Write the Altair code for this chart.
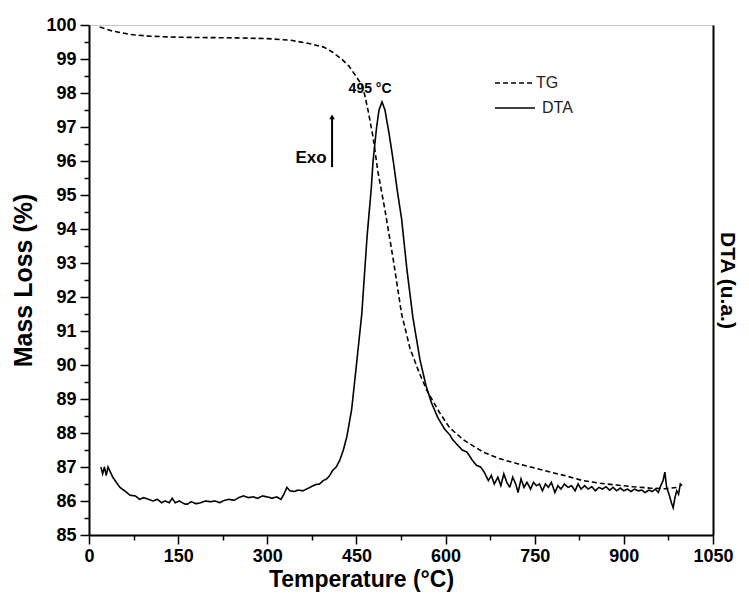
import altair as alt
import pandas as pd

# ---- data ----
tg_temp = [18, 40, 70, 103, 150, 200, 250, 300, 340, 372, 395, 410, 425, 437, 447, 459, 464, 470,
           478, 486, 498, 512, 526, 540, 555, 570, 590, 607, 630, 663, 690, 720, 750, 776, 800,
           831, 860, 888, 915, 944, 970, 990]
tg_val = [99.94, 99.82, 99.72, 99.67, 99.64, 99.63, 99.62, 99.60, 99.55, 99.45, 99.35, 99.20,
          99.00, 98.80, 98.55, 98.24, 97.94, 97.45, 96.70, 95.70, 94.56, 93.10, 91.50, 90.50,
          89.80, 89.20, 88.60, 88.15, 87.80, 87.44, 87.25, 87.10, 86.97, 86.85, 86.75, 86.60,
          86.52, 86.47, 86.42, 86.38, 86.36, 86.40]

dta_temp = [20, 23, 26, 29, 32, 36, 40, 46, 52, 60, 69, 78, 85, 92, 100, 108, 115, 122, 128, 135,
            140, 145, 152, 160, 165, 172, 180, 188, 196, 205, 212, 220, 228, 236, 244, 252, 260,
            268, 276, 284, 292, 300, 308, 316, 323, 328, 333, 338, 345, 352, 360, 367, 374, 381,
            388, 394, 400, 405, 410, 416, 422, 428, 434, 442, 450, 459, 468, 475, 478, 484, 488,
            493, 498, 505, 512, 519, 526, 535, 545, 557, 567, 576, 587, 599, 607, 612, 620, 628,
            636, 645, 652, 659, 665, 672, 677, 682, 688, 693, 698, 703, 708, 713, 718, 722, 727,
            732, 737, 743, 748, 753, 758, 763, 768, 773, 778, 784, 789, 794, 800, 806, 812, 818,
            823, 828, 834, 840, 846, 852, 858, 864, 870, 876, 882, 888, 894, 900, 906, 912, 918,
            924, 930, 936, 942, 948, 953, 958, 962, 966, 969, 972, 976, 980, 983, 986, 989, 992,
            995, 998]
dta_val = [87.0, 86.8, 87.0, 86.75, 87.0, 86.85, 86.7, 86.55, 86.4, 86.3, 86.17, 86.15, 86.05,
           86.1, 86.05, 86.0, 86.05, 85.95, 86.0, 85.95, 86.08, 85.95, 86.0, 85.92, 85.9, 85.98,
           85.92, 85.95, 86.0, 85.98, 86.0, 85.95, 86.02, 86.05, 86.02, 86.1, 86.15, 86.1, 86.12,
           86.08, 86.15, 86.12, 86.08, 86.12, 86.05, 86.2, 86.4, 86.3, 86.28, 86.32, 86.3, 86.36,
           86.42, 86.48, 86.5, 86.6, 86.65, 86.75, 86.9, 87.0, 87.2, 87.5, 87.9, 88.7, 90.0, 91.5,
           93.8, 95.2, 96.0, 97.0, 97.5, 97.74, 97.5, 96.8, 96.0, 95.1, 94.3, 92.8, 91.4, 90.15,
           89.4, 88.9, 88.45, 88.1, 87.95, 87.8, 87.65, 87.5, 87.44, 87.2, 87.05, 87.0, 86.85,
           86.6, 86.75, 86.5, 86.7, 86.45, 86.8, 86.55, 86.4, 86.7, 86.5, 86.25, 86.65, 86.4,
           86.55, 86.35, 86.55, 86.45, 86.5, 86.3, 86.5, 86.4, 86.55, 86.25, 86.45, 86.35, 86.5,
           86.4, 86.45, 86.3, 86.5, 86.35, 86.45, 86.35, 86.42, 86.3, 86.4, 86.35, 86.42, 86.32,
           86.4, 86.3, 86.38, 86.3, 86.35, 86.28, 86.35, 86.3, 86.32, 86.25, 86.32, 86.28, 86.35,
           86.25, 86.45, 86.6, 86.85, 86.4, 86.2, 85.95, 85.8, 86.1, 86.3, 86.2, 86.5, 86.45]

series_names = ["TG", "DTA"]
x_ticks = list(range(0, 1051, 75))
y_ticks = [85 + 0.5 * i for i in range(31)]

# annotations
ann_text = ["495 °C", "Exo"]
ann_temp = [473, 400]
ann_val = [98.12, 96.08]
arrow_temp = [409]
arrow_low = [95.82]
arrow_high = [97.30]

tg_df = pd.DataFrame({"T": tg_temp, "v": tg_val, "s": "TG"})
dta_df = pd.DataFrame({"T": dta_temp, "v": dta_val, "s": "DTA"})

FONT = "Liberation Sans"

x_enc = alt.X("T:Q", scale=alt.Scale(domain=[0, 1050], nice=False),
              axis=alt.Axis(values=x_ticks, tickCount=len(x_ticks), title="Temperature (°C)",
                            labelExpr="datum.value % 150 === 0 ? '' + datum.value : ''",
                            tickSize={"condition": {"test": "datum.value % 150 === 0", "value": 9}, "value": 5},
                            labelFontSize=18, labelFontWeight="bold", labelPadding=3,
                            titleFontSize=23, titleFontWeight="bold", titlePadding=3,
                            titleX=272, titleAlign="center",
                            domainColor="black", domainWidth=2, tickColor="black", tickWidth=1.5,
                            labelColor="black", titleColor="black", grid=False, labelFlush=False,
                            labelOverlap=False))

y_scale = alt.Scale(domain=[85, 100], nice=False, zero=False)
y_left = alt.Axis(values=y_ticks, tickCount=len(y_ticks), title="Mass Loss (%)",
                  labelExpr="datum.value % 1 === 0 ? '' + datum.value : ''",
                  tickSize={"condition": {"test": "datum.value % 1 === 0", "value": 9}, "value": 5},
                  labelFontSize=18, labelFontWeight="bold", labelPadding=4,
                  titleFontSize=25, titleFontWeight="bold", titlePadding=9,
                  domainColor="black", domainWidth=2, tickColor="black", tickWidth=1.5,
                  labelColor="black", titleColor="black", grid=False, labelFlush=False,
                  labelOverlap=False)
y_right = alt.Axis(orient="right", title="DTA (u.a.)", labels=False, ticks=False,
                   titleFontSize=21, titleFontWeight="bold", titleAngle=90, titlePadding=3,
                   domainColor="black", domainWidth=2, titleColor="black", grid=False)

dash = alt.StrokeDash("s:N", scale=alt.Scale(domain=series_names, range=[[5, 3], [1, 0]]),
                      legend=None)

tg = alt.Chart(tg_df).mark_line(color="black", strokeWidth=1.6).encode(
    x=x_enc, y=alt.Y("v:Q", scale=y_scale, axis=y_left), strokeDash=dash, order="T:Q")

ann_df = pd.DataFrame({"T": ann_temp, "v": ann_val, "t": ann_text})
peak_lbl = alt.Chart(ann_df.iloc[[0]]).mark_text(font=FONT, fontSize=14, fontWeight="bold",
                                                 color="black", align="center", baseline="middle").encode(
    x="T:Q", y=alt.Y("v:Q", scale=y_scale), text="t:N")
exo_lbl = alt.Chart(ann_df.iloc[[1]]).mark_text(font=FONT, fontSize=17, fontWeight="bold",
                                                color="black", align="right", baseline="middle").encode(
    x="T:Q", y=alt.Y("v:Q", scale=y_scale), text="t:N")

arr_df = pd.DataFrame({"T": arrow_temp, "lo": arrow_low, "hi": arrow_high})
arrow_line = alt.Chart(arr_df).mark_rule(color="black", strokeWidth=2).encode(
    x="T:Q", y=alt.Y("lo:Q", scale=y_scale), y2="hi:Q")
arrow_head = alt.Chart(arr_df).mark_point(shape="triangle-up", filled=True, color="black",
                                          size=30, opacity=1).encode(
    x="T:Q", y=alt.Y("hi:Q", scale=y_scale))

# manual legend (pixel positions inside the plot area)
leg_tg_line = alt.Chart(pd.DataFrame({"s": [series_names[0]]})).mark_rule(
    color="black", strokeWidth=1.5, strokeDash=[5, 3]).encode(
    x=alt.value(406), x2=alt.value(444), y=alt.value(58))
leg_dta_line = alt.Chart(pd.DataFrame({"s": [series_names[1]]})).mark_rule(
    color="black", strokeWidth=1.5).encode(
    x=alt.value(406), x2=alt.value(446), y=alt.value(83))
leg_tg_txt = alt.Chart(pd.DataFrame({"s": [series_names[0]]})).mark_text(
    font=FONT, fontSize=16, color="#222", align="left", baseline="middle").encode(
    x=alt.value(447), y=alt.value(58), text="s:N")
leg_dta_txt = alt.Chart(pd.DataFrame({"s": [series_names[1]]})).mark_text(
    font=FONT, fontSize=16, color="#222", align="left", baseline="middle").encode(
    x=alt.value(453), y=alt.value(83), text="s:N")

left_layer = alt.layer(tg, peak_lbl, exo_lbl, arrow_line, arrow_head,
                       leg_tg_line, leg_dta_line, leg_tg_txt, leg_dta_txt)

dta = alt.Chart(dta_df).mark_line(color="black", strokeWidth=1.6).encode(
    x=x_enc, y=alt.Y("v:Q", scale=y_scale, axis=y_right), strokeDash=dash, order="T:Q")

chart = alt.layer(left_layer, dta).resolve_scale(y="independent").properties(
    width=624, height=510,
    autosize=alt.AutoSizeParams(type="none"),
    padding={"left": 81, "top": 17, "right": 28, "bottom": 59},
).configure(font=FONT).configure_view(stroke="#c8c8c8", strokeWidth=1)

chart.save("out.html", embed_options={"renderer": "svg", "actions": False})
